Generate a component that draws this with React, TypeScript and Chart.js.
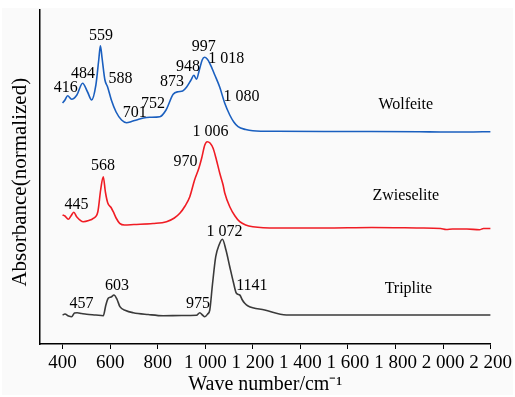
import React, { useEffect, useRef } from "react";
import { Chart, registerables } from "chart.js";

Chart.register(...registerables);

const FONT = "'Liberation Serif', 'Times New Roman', serif";

// Wave numbers (cm-1) and normalized absorbance (arbitrary offset units)
const WOLFEITE_X = [400, 410, 421, 438, 460, 484, 505, 522, 540, 552, 559, 566, 578, 589, 605, 625, 648, 669, 690, 711, 740, 767, 809, 835, 865, 886, 905, 921, 940, 952, 963, 975, 987, 997, 1008, 1019, 1040, 1061, 1082, 1103, 1120, 1138, 1170, 1200, 1300, 1500, 1700, 1900, 2000, 2100, 2200];
const WOLFEITE_Y = [241, 244, 248.3, 244.7, 249, 260.7, 252, 244, 259, 284, 298.3, 286, 264, 257.3, 244, 232, 224, 221.3, 222.5, 224, 226, 226.7, 227.3, 234, 249.7, 252.3, 253, 256.7, 264, 268.7, 264.7, 274, 284, 286.7, 285, 280.7, 269, 256.7, 240.7, 229, 222, 217.3, 214.5, 213.3, 212.7, 212.5, 212.5, 212.3, 212, 212, 212.3];

const ZWIESELITE_X = [400, 410, 424, 435, 447, 460, 487, 510, 529, 548, 560, 571, 580, 590, 605, 613, 625, 640, 660, 700, 780, 837, 870, 893, 915, 935, 955, 973, 985, 998, 1008, 1020, 1033, 1047, 1061, 1075, 1082, 1103, 1125, 1145, 1170, 1200, 1300, 1500, 1700, 1900, 1990, 2013, 2040, 2100, 2153, 2170, 2200];
const ZWIESELITE_Y = [129, 128, 124.7, 128, 131.7, 127, 122.3, 123.5, 125.7, 132, 154, 167.3, 152, 141, 136, 132.3, 126, 120.7, 119, 119.5, 120.5, 122.3, 126, 130.7, 138, 147.3, 164, 175.7, 186, 199, 202.3, 201, 195.7, 184, 170.7, 159, 151, 137.3, 128, 122.3, 119, 117.3, 116, 116, 116.5, 116, 115.5, 114.5, 115, 115, 114.2, 115.5, 115.5];

const TRIPLITE_X = [400, 410, 425, 438, 450, 461, 480, 501, 540, 571, 582, 592, 604, 616, 630, 641, 665, 697, 760, 823, 900, 963, 977, 988, 998, 1010, 1019, 1030, 1044, 1058, 1072, 1087, 1103, 1118, 1131, 1145, 1156, 1166, 1180, 1250, 1341, 1500, 1700, 1900, 2200];
const TRIPLITE_Y = [29, 30, 28, 27.3, 31, 31.3, 30.5, 29.7, 29, 28.3, 39, 45.7, 47, 49, 44, 37.3, 33.5, 31.3, 29.5, 28.3, 28.5, 28.7, 31.3, 29, 27.3, 30, 34, 59, 87.3, 99, 104.7, 94, 77.3, 62, 50.7, 49, 44, 40.7, 38, 34, 29, 29, 29, 29, 29];

const X_TICKS = [400, 600, 800, 1000, 1200, 1400, 1600, 1800, 2000, 2200];

// Peak annotations: text, wave number, absorbance position
const LABEL_TEXT = ["416", "484", "559", "588", "701", "752", "873", "948", "997", "1 018", "1 080", "Wolfeite", "445", "568", "970", "1 006", "Zwieselite", "457", "603", "975", "1 072", "1141", "Triplite"];
const LABEL_X = [413, 486, 561, 643, 703, 780, 860, 927, 994, 1088, 1152, 1843, 459, 570, 917, 1022, 1843, 480, 629, 969, 1081, 1196, 1854];
const LABEL_Y = [256.7, 270, 308.3, 265, 231.7, 240.7, 262.3, 277.3, 297.3, 285.7, 247.3, 239, 139, 178, 182.3, 212.3, 148, 40.7, 58, 40.7, 112.3, 58, 55.7];

const fmt = (v: number) =>
  v >= 1000 ? `${Math.floor(v / 1000)} ${String(v % 1000).padStart(3, "0")}` : String(v);

const toPts = (xs: number[], ys: number[]) => xs.map((x, i) => ({ x, y: ys[i] }));

export default function App() {
  const ref = useRef<HTMLCanvasElement | null>(null);

  useEffect(() => {
    if (!ref.current) return;
    const bg = {
      id: "bg",
      beforeDraw(chart: any) {
        const { ctx, width, height } = chart;
        ctx.save();
        ctx.fillStyle = "#ffffff";
        ctx.fillRect(0, 0, width, height);
        ctx.fillStyle = "#fafafa";
        ctx.fillRect(2, 8, width - 4, height - 10);
        ctx.restore();
      },
    };
    const labels = {
      id: "peakLabels",
      afterDatasetsDraw(chart: any) {
        const { ctx } = chart;
        const xs = chart.scales.x;
        const ys = chart.scales.y;
        ctx.save();
        ctx.fillStyle = "#000";
        ctx.font = `16px ${FONT}`;
        ctx.textAlign = "center";
        ctx.textBaseline = "middle";
        LABEL_TEXT.forEach((t, i) => {
          ctx.fillText(t, xs.getPixelForValue(LABEL_X[i]), ys.getPixelForValue(LABEL_Y[i]));
        });
        ctx.restore();
      },
    };
    const chart = new Chart(ref.current, {
      type: "line",
      data: {
        datasets: [
          { label: "Wolfeite", data: toPts(WOLFEITE_X, WOLFEITE_Y), borderColor: "#1a5fbf" },
          { label: "Zwieselite", data: toPts(ZWIESELITE_X, ZWIESELITE_Y), borderColor: "#f01c24" },
          { label: "Triplite", data: toPts(TRIPLITE_X, TRIPLITE_Y), borderColor: "#3a3a3a" },
        ].map((d) => ({ ...d, borderWidth: 1.6, pointRadius: 0, cubicInterpolationMode: "monotone" as const, fill: false })),
      },
      options: {
        responsive: false,
        animation: false,
        layout: { padding: { top: 10, right: 23, left: 0, bottom: 0 } },
        plugins: { legend: { display: false }, tooltip: { enabled: false } },
        scales: {
          x: {
            type: "linear",
            min: 305,
            max: 2200,
            afterBuildTicks: (s: any) => {
              s.ticks = X_TICKS.map((v) => ({ value: v }));
            },
            afterFit: (s: any) => {
              s.height = 53;
            },
            grid: { drawOnChartArea: false, drawTicks: true, tickLength: 5, color: "#000" },
            border: { display: true, color: "#000", width: 1.5 },
            ticks: {
              autoSkip: false,
              maxRotation: 0,
              padding: 3,
              color: "#000",
              font: { family: FONT, size: 19 },
              callback: (v: any) => fmt(Number(v)),
            },
            title: {
              display: true,
              text: "Wave number/cm⁻¹",
              color: "#000",
              font: { family: FONT, size: 20 },
              padding: { top: 0, bottom: 0 },
            },
          },
          y: {
            min: 0,
            max: 334,
            afterFit: (s: any) => {
              s.width = 40;
            },
            grid: { display: false },
            border: { display: true, color: "#000", width: 1.5 },
            ticks: { display: false },
            title: {
              display: true,
              text: "Absorbance(normalized)\u00a0\u00a0",
              color: "#000",
              font: { family: FONT, size: 21 },
              padding: { top: 8, bottom: 0 },
            },
          },
        },
      },
      plugins: [bg, labels],
    });
    return () => chart.destroy();
  }, []);

  return (
    <div style={{ position: "fixed", left: 0, top: 0, width: 515, height: 397 }}>
      <canvas ref={ref} width={515} height={397} style={{ display: "block" }} />
    </div>
  );
}
